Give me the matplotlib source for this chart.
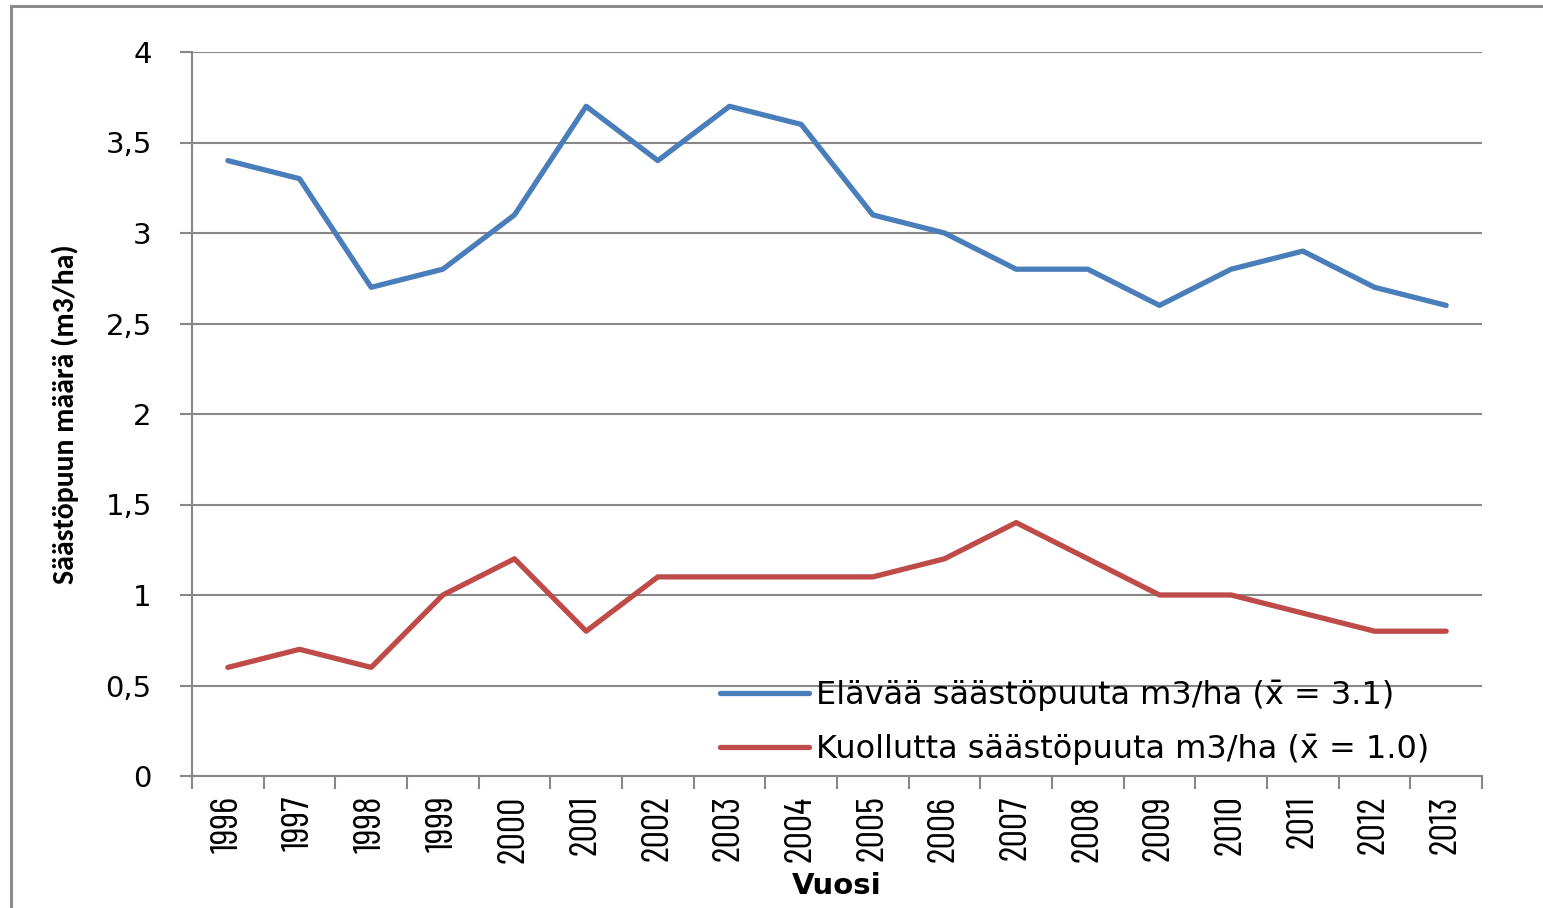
import matplotlib
matplotlib.use("Agg")
import matplotlib.pyplot as plt
from matplotlib.patches import Rectangle

years = [str(y) for y in range(1996, 2014)]
elavaa = [3.4, 3.3, 2.7, 2.8, 3.1, 3.7, 3.4, 3.7, 3.6, 3.1, 3.0, 2.8, 2.8, 2.6, 2.8, 2.9, 2.7, 2.6]
kuollutta = [0.6, 0.7, 0.6, 1.0, 1.2, 0.8, 1.1, 1.1, 1.1, 1.1, 1.2, 1.4, 1.2, 1.0, 1.0, 0.9, 0.8, 0.8]
yticks = [0, 0.5, 1, 1.5, 2, 2.5, 3, 3.5, 4]
ytick_labels = ["0", "0,5", "1", "1,5", "2", "2,5", "3", "3,5", "4"]
label_elavaa = "Elävää säästöpuuta m3/ha (x\u0304 = 3.1)"
label_kuollutta = "Kuollutta säästöpuuta m3/ha (x\u0304 = 1.0)"

WIDE = ["DejaVu Sans"]
COND = ["Barlow Condensed", "DejaVu Sans"]
CAL = ["Carlito", "DejaVu Sans"]

W, H = 1543, 908
fig = plt.figure(figsize=(W / 100, H / 100), dpi=100)
fig.patches.append(Rectangle((11 / W, -0.1), 1.2, 1 - 6 / H + 0.1, transform=fig.transFigure,
                             fill=False, edgecolor="#8c8c8c", linewidth=2.2, zorder=0))
ax = fig.add_axes([192 / W, 1 - 776 / H, (1482 - 192) / W, (776 - 52) / H])

x = list(range(len(years)))
grid_c = "#878787"
ax.plot(x, elavaa, color="#4A7EBB", linewidth=3.8, solid_joinstyle="round",
        solid_capstyle="round", label=label_elavaa, zorder=3)
ax.plot(x, kuollutta, color="#BE4B48", linewidth=3.8, solid_joinstyle="round",
        solid_capstyle="round", label=label_kuollutta, zorder=3)

ax.set_xlim(-0.5, len(years) - 0.5)
ax.set_ylim(0, 4)
ax.set_yticks(yticks)
ax.set_yticklabels(ytick_labels, fontsize=21, family=WIDE)
ax.yaxis.grid(True, color=grid_c, linewidth=1.5)
ax.set_axisbelow(True)
ax.tick_params(axis="y", length=9, width=1.5, color=grid_c, pad=20)

ax.set_xticks(x)
ax.set_xticklabels(years, rotation=90, fontsize=28, family=COND)
ax.set_xticks([i - 0.5 for i in range(len(years) + 1)], minor=True)
ax.tick_params(axis="x", which="major", length=0, pad=14)
ax.tick_params(axis="x", which="minor", length=9, width=1.5, color=grid_c)

for s in ["top", "right"]:
    ax.spines[s].set_visible(False)
for s in ["left", "bottom"]:
    ax.spines[s].set_color(grid_c)
    ax.spines[s].set_linewidth(1.5)

ax.set_xlabel("Vuosi", fontsize=21, fontweight="bold", family=WIDE)
ax.xaxis.set_label_coords(0.5, (776 - 872) / 724)
ax.set_ylabel("Säästöpuun määrä (m3/ha)", fontsize=21.5, fontweight="bold", family=CAL)
ax.yaxis.set_label_coords((79 - 192) / 1290, 0.5)

leg = ax.legend(loc="center left", bbox_to_anchor=((720 - 192) / 1290, (776 - 722.5) / 724),
                frameon=False, prop={"family": WIDE, "size": 23}, borderpad=0, borderaxespad=0,
                handlelength=2.8, handletextpad=0.2, labelspacing=0.72)

fig.savefig("out.png", dpi=100)
